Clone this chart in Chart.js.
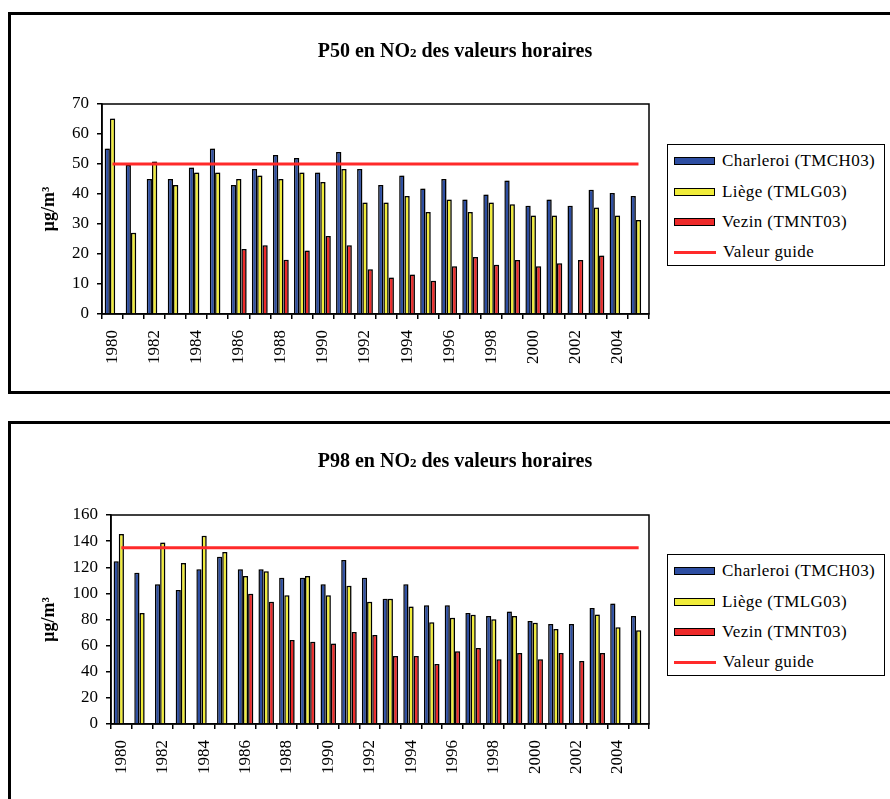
<!DOCTYPE html>
<html><head><meta charset="utf-8">
<script src="https://cdn.jsdelivr.net/npm/chart.js@4/dist/chart.umd.min.js"></script>
<style>
body{margin:0;background:#fff;width:890px;height:799px;overflow:hidden;position:relative;font-family:"Liberation Serif","Times New Roman",serif;}
.frame{position:absolute;border:3px solid #000;box-sizing:border-box;}
.wrap{position:absolute;left:0;width:890px;}
.title{position:absolute;left:255px;width:400px;text-align:center;font-size:20px;font-weight:bold;line-height:24px;color:#000;white-space:nowrap}
.title .sub{font-size:13px;vertical-align:baseline}
.legend{position:absolute;left:667px;width:218px;height:122px;border:1.5px solid #000;box-sizing:border-box;background:#fff;}
.row{position:absolute;left:6px;height:20px;display:flex;align-items:center;font-size:17px;letter-spacing:0.4px;white-space:nowrap;color:#000}
.sw{width:39px;height:6px;border:1.5px solid #000;margin-right:7px}
.ln{width:42px;height:3px;margin-right:7px}
</style></head>
<body>
<div class="frame" style="left:8px;top:12px;width:900px;height:382px"></div>
<div class="frame" style="left:8px;top:421px;width:900px;height:420px"></div>
<div class="wrap" style="top:0;height:400px"><canvas id="c1" width="890" height="400"></canvas></div>
<div class="wrap" style="top:400px;height:399px"><canvas id="c2" width="890" height="399"></canvas></div>
<div class="title" id="t1" style="top:38px"></div>
<div class="title" id="t2" style="top:448px"></div>
<div class="legend" id="lg1" style="top:144px"></div>
<div class="legend" id="lg2" style="top:554px"></div>
<script>
const years = ["1980","1981","1982","1983","1984","1985","1986","1987","1988","1989","1990","1991","1992","1993","1994","1995","1996","1997","1998","1999","2000","2001","2002","2003","2004","2005"];
const labeledYears = ["1980","1982","1984","1986","1988","1990","1992","1994","1996","1998","2000","2002","2004"];
const seriesNames = ["Charleroi (TMCH03)","Liège (TMLG03)","Vezin (TMNT03)","Valeur guide"];
const titles = [["P50 en NO","2"," des valeurs horaires"],["P98 en NO","2"," des valeurs horaires"]];

const charleroiP50 = [55.2,49.7,45,45,48.8,55.2,43,48.3,53,52,47.2,54,48.3,43,46.2,41.8,45,38.2,39.8,44.5,36.1,38.2,36.1,41.4,40.3,39.3];
const liegeP50 = [65.2,27.1,50.8,43,47.2,47.2,45,46.2,45,47.2,44,48.3,37.2,37.2,39.3,34,38.2,34,37.2,36.6,32.8,32.8,null,35.5,32.8,31.3];
const vezinP50 = [null,null,null,null,null,null,21.7,22.9,18.1,21.2,26,22.9,14.9,12.2,13.2,11.1,15.9,19,16.4,18,15.9,16.9,18,19.5,null,null];
const guideP50 = 50;

const charleroiP98 = [124.5,115.8,107,102.6,118.4,128,118.4,118.4,112,112,107,125.5,112,95.9,107,91,91,85,82.7,86.2,78.8,76.5,76.5,88.8,92.3,82.7];
const liegeP98 = [145.4,85,139,123.2,144.1,131.6,113.3,117,98.5,113.3,98.5,105.9,93.6,95.9,90,77.8,81.4,83.7,80.1,82.7,77.6,72.7,null,83.9,74,71.7];
const vezinP98 = [null,null,null,null,null,null,99.7,93.6,64.3,63,61.7,70.4,68.1,52,52,45.9,55.6,58.2,49.5,54.3,49.5,54.3,48.2,54.3,null,null];
const guideP98 = 135;

const COLORS = ["#2D4EA2","#F0EC3A","#EE2A2A","#FF2A2A"];
const FONT = "'Liberation Serif','Times New Roman',serif";

const boxPlugin = {
  id:'plotBox',
  beforeDatasetsDraw(chart){
    const a = chart.chartArea, ctx = chart.ctx;
    ctx.save(); ctx.strokeStyle='#000'; ctx.lineWidth=1.5;
    ctx.strokeRect(a.left, a.top, a.right-a.left, a.bottom-a.top);
    ctx.restore();
  },
  beforeDatasetDraw(chart, args){
    if (args.meta.type === 'bar') {
      const ctx = chart.ctx; ctx.save();
      ctx.shadowColor = 'rgba(0,0,0,0.22)'; ctx.shadowOffsetX = 1.5; ctx.shadowOffsetY = -1; ctx.shadowBlur = 1;
    }
  },
  afterDatasetDraw(chart, args){
    if (args.meta.type === 'bar') chart.ctx.restore();
  }
};

function makeChart(id, c, l, v, guide, yMax, yStep, cfg){
  const bar = (label, data, color) => ({type:'bar', label, data, backgroundColor:color, borderColor:'#000', borderWidth:1.5, borderSkipped:'start', categoryPercentage:0.75, barPercentage:1.0, order:1});
  return new Chart(document.getElementById(id), {
    data:{
      labels: years,
      datasets:[
        bar(seriesNames[0], c, COLORS[0]),
        bar(seriesNames[1], l, COLORS[1]),
        bar(seriesNames[2], v, COLORS[2]),
        {type:'line', label:seriesNames[3], data: years.map(()=>guide), borderColor:COLORS[3], borderWidth:3, pointRadius:0, fill:false, order:0}
      ]
    },
    options:{
      responsive:false, animation:false,
      layout:{padding:{left:35, right:241, top:cfg.padTop, bottom:cfg.padBottom}},
      plugins:{ legend:{display:false}, tooltip:{enabled:false}, title:{display:false} },
      scales:{
        x:{
          offset:true,
          grid:{display:true, drawOnChartArea:false, drawTicks:true, tickLength:5, color:'#000', lineWidth:1.5, offset:true},
          border:{display:true, color:'#000', width:1.5},
          ticks:{autoSkip:false, maxRotation:90, minRotation:90, padding:11, color:'#000', font:{family:FONT, size:17},
            callback:(val, idx)=> labeledYears.includes(years[idx]) ? years[idx] : ''},
          afterFit:(s)=>{ s.height = cfg.xHeight; }
        },
        y:{
          min:0, max:yMax,
          grid:{display:true, drawOnChartArea:false, drawTicks:true, tickLength:5, color:'#000', lineWidth:1.5},
          border:{display:true, color:'#000', width:1.5},
          ticks:{stepSize:yStep, padding:8, color:'#000', font:{family:FONT, size:17}},
          title:{display:true, text:'µg/m³', color:'#000', font:{family:FONT, size:18, weight:'bold'}, padding:{top:4,bottom:0}},
          afterFit:(s)=>{ s.width = cfg.yWidth; }
        }
      }
    },
    plugins:[boxPlugin]
  });
}

makeChart('c1', charleroiP50, liegeP50, vezinP50, guideP50, 70, 10,
  {padTop:104, padBottom:10, xHeight:76, yWidth:67});
makeChart('c2', charleroiP98, liegeP98, vezinP98, guideP98, 160, 20,
  {padTop:115, padBottom:0, xHeight:75, yWidth:76});

function buildTitle(id, parts){
  const el = document.getElementById(id);
  el.appendChild(document.createTextNode(parts[0]));
  const s = document.createElement('span'); s.className='sub'; s.textContent=parts[1]; el.appendChild(s);
  el.appendChild(document.createTextNode(parts[2]));
}
buildTitle('t1', titles[0]); buildTitle('t2', titles[1]);

function buildLegend(id){
  const el = document.getElementById(id);
  const centers = [16,47,77,107];
  seriesNames.forEach((name,i)=>{
    const r = document.createElement('div');
    r.className='row'; r.style.top=(centers[i]-10)+'px';
    const s = document.createElement('div');
    if(i<3){ s.className='sw'; s.style.background=COLORS[i]; }
    else { s.className='ln'; s.style.background=COLORS[3]; }
    r.appendChild(s);
    const t = document.createElement('span'); t.textContent=name; r.appendChild(t);
    el.appendChild(r);
  });
}
buildLegend('lg1'); buildLegend('lg2');
</script>
</body></html>
